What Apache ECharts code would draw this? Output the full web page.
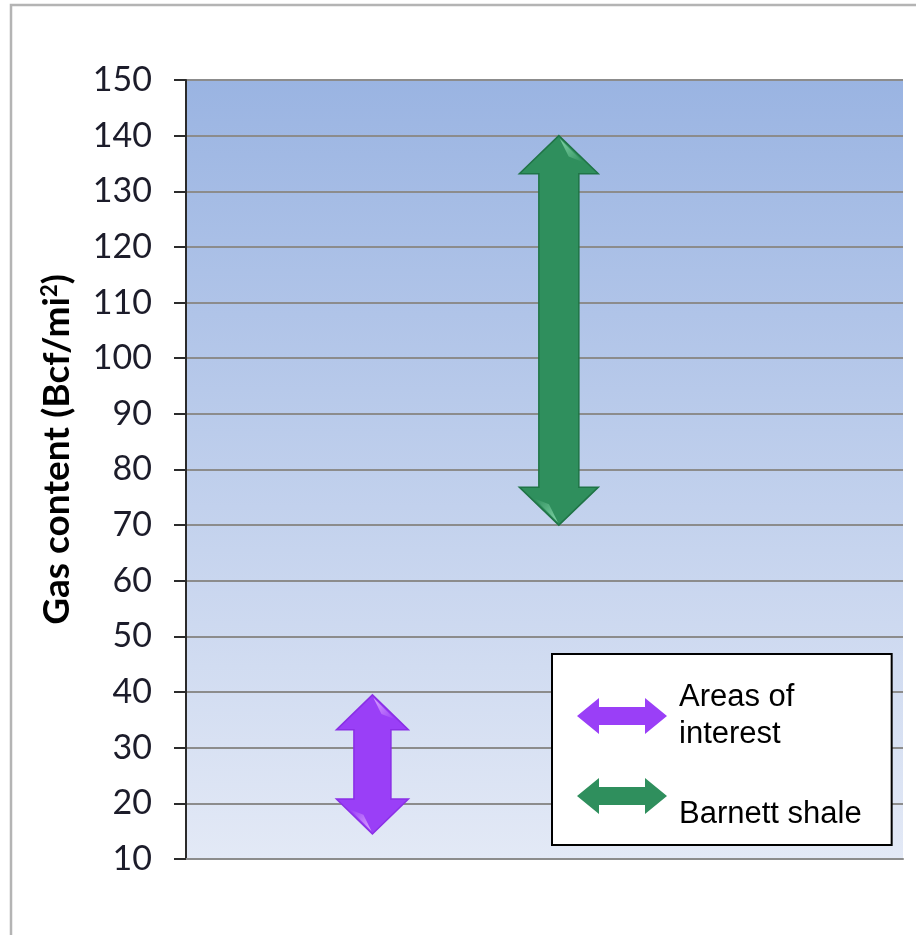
<!DOCTYPE html>
<html>
<head>
<meta charset="utf-8">
<style>
  html, body { margin: 0; padding: 0; background: #ffffff; }
  #chart { width: 916px; height: 935px; }
</style>
<script src="https://cdn.jsdelivr.net/npm/echarts@6/dist/echarts.min.js"></script>
</head>
<body>
<div id="chart"></div>
<script>
// Gas content ranges (Bcf/mi²)
const rangeNames = ['Areas of interest', 'Barnett shale'];
const lowValues = [14.5, 70];
const highValues = [39.5, 140];

// Axis scale
const yMin = 10;
const yMax = 150;
const yStep = 10;
const yTitle = 'Gas content (Bcf/mi{sup|2})';

// Horizontal slot of each arrow on a hidden 0–100 axis
const arrowSlots = [26, 52];

const arrowStyles = [
  { fill: '#9a3ff7', edge: '#8a2fe6', shine: '#e7b6ff', shaft: 37, head: 72, headH: 35 },
  { fill: '#2f8f5d', edge: '#1f7446', shine: '#8fe0b4', shaft: 40, head: 79, headH: 38 }
];

function makeRenderer(style) {
  return function (params, api) {
    const x = api.value(0);
    const top = api.coord([x, api.value(2)]);
    const bot = api.coord([x, api.value(1)]);
    const cx = top[0];
    const sh = style.shaft / 2, hw = style.head / 2, hh = style.headH;
    const t = top[1], b = bot[1];
    const pts = [
      [cx, t], [cx + hw, t + hh], [cx + sh, t + hh], [cx + sh, b - hh],
      [cx + hw, b - hh], [cx, b], [cx - hw, b - hh], [cx - sh, b - hh],
      [cx - sh, t + hh], [cx - hw, t + hh]
    ];
    const shineTop = [[cx + 1, t + 3], [cx + hw * 0.62, t + hh * 0.7], [cx + hw * 0.25, t + hh * 0.55]];
    const shineBot = [[cx - 1, b - 3], [cx - hw * 0.62, b - hh * 0.7], [cx - hw * 0.25, b - hh * 0.55]];
    const shineFill = (x0, y0, x1, y1) => new echarts.graphic.LinearGradient(x0, y0, x1, y1, [
      { offset: 0, color: style.shine },
      { offset: 1, color: style.fill }
    ]);
    return {
      type: 'group',
      children: [
        { type: 'polygon', shape: { points: pts },
          style: { fill: style.fill, stroke: style.edge, lineWidth: 1.5 } },
        { type: 'polygon', shape: { points: shineTop },
          style: { fill: shineFill(0, 0, 1, 1), opacity: 0.85 } },
        { type: 'polygon', shape: { points: shineBot },
          style: { fill: shineFill(1, 1, 0, 0), opacity: 0.85 } }
      ]
    };
  };
}

const series = rangeNames.map((name, i) => ({
  type: 'custom',
  name: name,
  coordinateSystem: 'cartesian2d',
  itemStyle: { color: arrowStyles[i].fill },
  renderItem: makeRenderer(arrowStyles[i]),
  encode: { x: 0, y: [1, 2] },
  data: [[arrowSlots[i], lowValues[i], highValues[i]]],
  z: 5
}));

const legendArrow = 'path://M0,18 L22,0 L22,9 L68,9 L68,0 L90,18 L68,36 L68,27 L22,27 L22,36 Z';

const chart = echarts.init(document.getElementById('chart'), null, { renderer: 'canvas' });
chart.setOption({
  animation: false,
  backgroundColor: '#ffffff',
  graphic: [{
    type: 'rect',
    shape: { x: 11, y: 5, width: 960, height: 990 },
    style: { fill: 'none', stroke: '#b4b4b4', lineWidth: 2.5 },
    silent: true,
    z: -10
  }],
  grid: {
    left: 186, top: 80, right: 13, bottom: 76,
    show: true,
    borderWidth: 0,
    backgroundColor: new echarts.graphic.LinearGradient(0, 0, 0, 1, [
      { offset: 0, color: '#9ab4e2' },
      { offset: 1, color: '#e3e9f6' }
    ])
  },
  xAxis: {
    type: 'value', min: 0, max: 100,
    axisLine: { show: true, onZero: false, lineStyle: { color: '#8c8c8c', width: 2 } },
    axisTick: { show: false },
    axisLabel: { show: false },
    splitLine: { show: false }
  },
  yAxis: {
    type: 'value', min: yMin, max: yMax, interval: yStep,
    name: yTitle,
    nameLocation: 'middle',
    nameGap: 110,
    nameTextStyle: {
      fontFamily: 'Lato', fontWeight: 'bold', fontSize: 37, color: '#000000',
      padding: [0, 0, 0, 40],
      rich: { sup: { fontFamily: 'Lato', fontWeight: 'bold', fontSize: 22, color: '#000000', verticalAlign: 'top', padding: [0, 0, 14, 0] } }
    },
    axisLine: { show: true, lineStyle: { color: '#2b2b2b', width: 2 } },
    axisTick: { show: true, inside: false, length: 12, lineStyle: { color: '#2b2b2b', width: 2 } },
    axisLabel: { fontFamily: 'Lato', fontSize: 34, color: '#1c1c2a', margin: 34 },
    splitLine: { show: true, lineStyle: { color: '#8c8c8c', width: 2 } }
  },
  legend: {
    orient: 'vertical',
    left: 552, top: 654,
    padding: [25, 30, 12, 25],
    itemGap: 6,
    itemWidth: 90, itemHeight: 36,
    backgroundColor: '#ffffff',
    borderColor: '#000000', borderWidth: 2,
    selectedMode: false,
    data: rangeNames.map(n => ({ name: n, icon: legendArrow })),
    formatter: function (name) {
      return name === rangeNames[0] ? 'Areas of\ninterest' : '\n' + name;
    },
    textStyle: {
      fontFamily: 'Liberation Sans', fontSize: 31, color: '#000000',
      lineHeight: 37, padding: [0, 0, 0, 7]
    }
  },
  series: series
});
</script>
</body>
</html>
